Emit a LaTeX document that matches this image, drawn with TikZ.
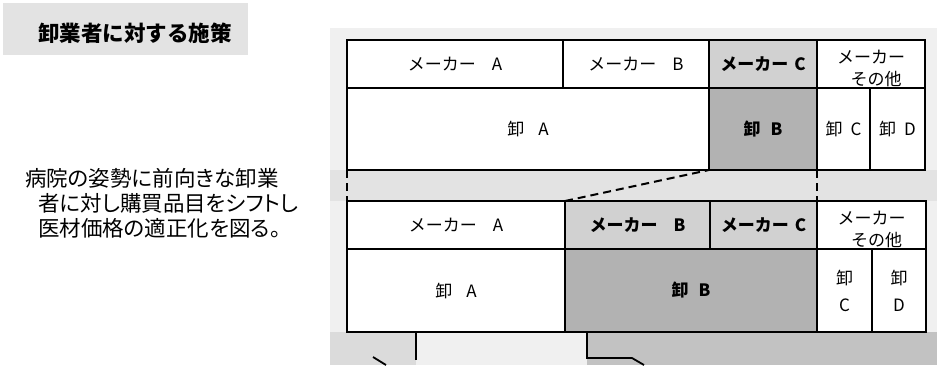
\documentclass[tikz,border=0pt]{standalone}
\usepackage{fontspec}
\setmainfont{Noto Sans CJK JP}
\newfontfamily\jp{Noto Sans CJK JP}
\newfontfamily\jpp[RawFeature=+palt]{Noto Sans CJK JP}
\begin{document}
\begin{tikzpicture}[x=1pt,y=-1pt,
  cell/.style={draw=black,line width=1.8pt,rectangle,inner sep=0pt,outer sep=0pt,
    anchor=north west,align=center,font=\jp\fontsize{17}{22}\selectfont},
  lab/.style={inner sep=0pt,align=center,font=\jp\fontsize{17}{22}\selectfont},
  lite/.style={fill=black!18},
  dark/.style={fill=black!30},
  boldtxt/.style={font=\jp\bfseries\fontsize{17}{22}\selectfont},
  link/.style={draw=black,line width=2pt,dash pattern=on 8pt off 5pt},
  frag/.style={draw=black,line width=1.8pt},
  para/.style={anchor=west,inner sep=0pt,font=\jpp\fontsize{21.5}{24}\selectfont}]
\useasboundingbox (0,0) rectangle (937,365);
% stippled backgrounds
\fill[black!6] (330,28) rectangle (937,365);
\fill[black!11] (330,170) rectangle (937,201);
\fill[black!14] (330,332) rectangle (416,365);
\fill[black!24] (587,332) rectangle (937,365);
\fill[black!11] (3,3) rectangle (248,55);
% title
\node[inner sep=0pt,font=\jp\bfseries\fontsize{21.5}{24}\selectfont] (title) at (135,33) {卸業者に対する施策};
% left text
\node[para] (p1) at (25,178) {病院の姿勢に前向きな卸業};
\node[para] (p2) at (38,203) {者に対し購買品目をシフトし};
\node[para] (p3) at (38,228) {医材価格の適正化を図る。};
% top table
\node[cell,fill=white,minimum width=216pt,minimum height=48pt] (tMA) at (347,40) {メーカー\hspace{16pt}A};
\node[cell,fill=white,minimum width=146pt,minimum height=48pt] (tMB) at (563,40) {メーカー\hspace{16pt}B};
\node[cell,lite,boldtxt,minimum width=108pt,minimum height=48pt] (tMC) at (709,40) {メーカー\hspace{6pt}C};
\node[cell,fill=white,minimum width=108pt,minimum height=48pt] (tMO) at (817,40) {};
\node[lab] (tMOt) at ([yshift=-4pt]tMO.center) {メーカー\\\hspace{10pt}その他};
\node[cell,fill=white,minimum width=362pt,minimum height=82pt] (tOA) at (347,88) {卸\hspace{14pt}A};
\node[cell,dark,boldtxt,minimum width=108pt,minimum height=82pt] (tOB) at (709,88) {卸\hspace{10pt}B};
\node[cell,fill=white,minimum width=53pt,minimum height=82pt] (tOC) at (817,88) {卸\hspace{8pt}C};
\node[cell,fill=white,minimum width=55pt,minimum height=82pt] (tOD) at (870,88) {卸\hspace{8pt}D};
% bottom table
\node[cell,fill=white,minimum width=218pt,minimum height=48pt] (bMA) at (347,201) {メーカー\hspace{16pt}A};
\node[cell,lite,boldtxt,minimum width=145pt,minimum height=48pt] (bMB) at (565,201) {メーカー\hspace{16pt}B};
\node[cell,lite,boldtxt,minimum width=107pt,minimum height=48pt] (bMC) at (710,201) {メーカー\hspace{6pt}C};
\node[cell,fill=white,minimum width=109pt,minimum height=48pt] (bMO) at (817,201) {};
\node[lab] (bMOt) at ([yshift=-4pt]bMO.center) {メーカー\\\hspace{10pt}その他};
\node[cell,fill=white,minimum width=218pt,minimum height=83pt] (bOA) at (347,249) {卸\hspace{14pt}A};
\node[cell,dark,boldtxt,minimum width=252pt,minimum height=83pt] (bOB) at (565,249) {卸\hspace{10pt}B};
\node[cell,fill=white,minimum width=55pt,minimum height=83pt,font=\jp\fontsize{17}{27}\selectfont] (bOC) at (817,249) {卸\\C};
\node[cell,fill=white,minimum width=54pt,minimum height=83pt,font=\jp\fontsize{17}{27}\selectfont] (bOD) at (872,249) {卸\\D};
% links between tables
\draw[link] (bMB.north west) -- (tOB.south west);
\draw[link] (tOC.south west) -- (bMO.north west);
\draw[link] (tOA.south west) -- (bMA.north west);
% fragments below
\draw[frag] (416,332) -- (416,360);
\draw[frag] (373,357) -- (386,365);
\draw[frag] (587,332) -- (587,358) -- (632,358) -- (644,365);
\end{tikzpicture}
\end{document}
